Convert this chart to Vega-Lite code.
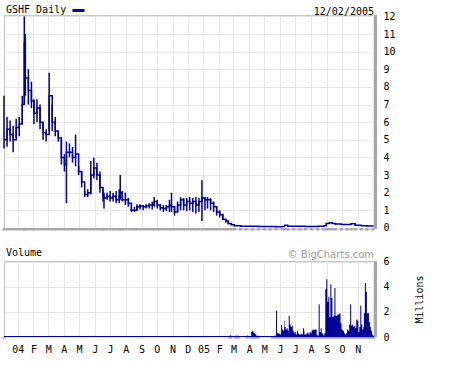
{
  "$schema": "https://vega.github.io/schema/vega-lite/v6.json",
  "padding": {"left": 0, "top": 2, "right": 0, "bottom": 0},
  "background": "white",
  "spacing": 14,
  "config": {
    "view": {"stroke": "#c4c4c4", "strokeWidth": 1},
    "axis": {"gridColor": "#e6e6e6", "gridWidth": 1, "labelFont": "DejaVu Sans Mono", "labelFontSize": 10, "labelColor": "#000000", "titleFont": "DejaVu Sans Mono", "titleFontSize": 10, "titleFontWeight": "normal", "titleColor": "#000000", "domain": false, "ticks": false},
    "legend": {"titleFont": "DejaVu Sans Mono", "titleFontSize": 10, "titleFontWeight": "normal", "titleColor": "#000000", "labelFontSize": 1, "padding": 0, "offset": 0},
    "title": {"font": "DejaVu Sans Mono", "fontSize": 10, "fontWeight": "normal", "color": "#000000", "frame": "group"}
  },
  "resolve": {"scale": {"color": "independent", "x": "independent", "y": "independent"}, "legend": {"color": "independent"}},
  "datasets": {
    "price": [
      {"date": "2003-12-05", "high": 7.5, "low": 4.5, "close": 5.0},
      {"date": "2003-12-11", "high": 6.3, "low": 4.6, "close": 5.6},
      {"date": "2003-12-17", "high": 6.1, "low": 4.9, "close": 5.3},
      {"date": "2003-12-23", "high": 5.8, "low": 4.3, "close": 5.0},
      {"date": "2003-12-29", "high": 6.2, "low": 5.1, "close": 5.7},
      {"date": "2004-01-04", "high": 6.3, "low": 5.2, "close": 5.9},
      {"date": "2004-01-10", "high": 7.5, "low": 5.9, "close": 7.0},
      {"date": "2004-01-14", "high": 12.0, "low": 7.0, "close": 10.5},
      {"date": "2004-01-16", "high": 11.0, "low": 7.5, "close": 8.5},
      {"date": "2004-01-22", "high": 9.0, "low": 7.0, "close": 7.8},
      {"date": "2004-01-28", "high": 8.3, "low": 6.8, "close": 7.2},
      {"date": "2004-02-02", "high": 7.3, "low": 5.9, "close": 6.5},
      {"date": "2004-02-08", "high": 7.3, "low": 6.0, "close": 6.8},
      {"date": "2004-02-14", "high": 7.0, "low": 5.6, "close": 6.0},
      {"date": "2004-02-20", "high": 6.0, "low": 5.0, "close": 5.4},
      {"date": "2004-02-26", "high": 5.6, "low": 4.9, "close": 5.3},
      {"date": "2004-03-03", "high": 8.8, "low": 5.5, "close": 7.5},
      {"date": "2004-03-09", "high": 7.0, "low": 5.5, "close": 6.0},
      {"date": "2004-03-15", "high": 6.3, "low": 5.2, "close": 5.5},
      {"date": "2004-03-21", "high": 5.5, "low": 4.9, "close": 5.1},
      {"date": "2004-03-27", "high": 5.0, "low": 3.6, "close": 4.0},
      {"date": "2004-04-02", "high": 4.2, "low": 3.2, "close": 3.6},
      {"date": "2004-04-06", "high": 4.9, "low": 1.4, "close": 4.3},
      {"date": "2004-04-12", "high": 4.8, "low": 4.0, "close": 4.3},
      {"date": "2004-04-18", "high": 4.6, "low": 3.7, "close": 4.0},
      {"date": "2004-04-24", "high": 5.3, "low": 3.5, "close": 4.2},
      {"date": "2004-04-30", "high": 3.5, "low": 3.0, "close": 3.2},
      {"date": "2004-05-06", "high": 3.2, "low": 2.3, "close": 2.6},
      {"date": "2004-05-12", "high": 2.1, "low": 1.75, "close": 1.9},
      {"date": "2004-05-18", "high": 2.2, "low": 1.75, "close": 2.0},
      {"date": "2004-05-24", "high": 3.8, "low": 1.9, "close": 3.0},
      {"date": "2004-05-30", "high": 4.0, "low": 2.8, "close": 3.4},
      {"date": "2004-06-05", "high": 3.7, "low": 2.7, "close": 3.0},
      {"date": "2004-06-11", "high": 3.2, "low": 2.0, "close": 2.3},
      {"date": "2004-06-17", "high": 2.2, "low": 1.5, "close": 1.8},
      {"date": "2004-06-19", "high": 2.0, "low": 1.1, "close": 1.7},
      {"date": "2004-06-25", "high": 2.0, "low": 1.6, "close": 1.8},
      {"date": "2004-07-01", "high": 2.1, "low": 1.5, "close": 1.7},
      {"date": "2004-07-07", "high": 2.0, "low": 1.5, "close": 1.8},
      {"date": "2004-07-13", "high": 2.1, "low": 1.4, "close": 1.6},
      {"date": "2004-07-19", "high": 2.2, "low": 1.4, "close": 1.8},
      {"date": "2004-07-21", "high": 3.0, "low": 1.6, "close": 2.0},
      {"date": "2004-07-25", "high": 2.1, "low": 1.5, "close": 1.6},
      {"date": "2004-07-31", "high": 2.0, "low": 1.3, "close": 1.6},
      {"date": "2004-08-06", "high": 1.7, "low": 1.2, "close": 1.4},
      {"date": "2004-08-12", "high": 1.2, "low": 0.9, "close": 1.0},
      {"date": "2004-08-18", "high": 1.2, "low": 0.9, "close": 1.0},
      {"date": "2004-08-23", "high": 1.35, "low": 1.0, "close": 1.2},
      {"date": "2004-08-29", "high": 1.35, "low": 1.05, "close": 1.25},
      {"date": "2004-09-04", "high": 1.3, "low": 1.0, "close": 1.2},
      {"date": "2004-09-10", "high": 1.35, "low": 1.1, "close": 1.25},
      {"date": "2004-09-16", "high": 1.4, "low": 1.1, "close": 1.3},
      {"date": "2004-09-22", "high": 1.5, "low": 1.05, "close": 1.3},
      {"date": "2004-09-26", "high": 1.75, "low": 1.2, "close": 1.5},
      {"date": "2004-10-02", "high": 1.6, "low": 1.1, "close": 1.3},
      {"date": "2004-10-08", "high": 1.35, "low": 1.0, "close": 1.15},
      {"date": "2004-10-14", "high": 1.3, "low": 0.9, "close": 1.1},
      {"date": "2004-10-20", "high": 1.3, "low": 0.95, "close": 1.2},
      {"date": "2004-10-26", "high": 1.6, "low": 0.9, "close": 1.3},
      {"date": "2004-10-30", "high": 2.0, "low": 0.9, "close": 1.2},
      {"date": "2004-11-05", "high": 1.2, "low": 0.7, "close": 0.9},
      {"date": "2004-11-11", "high": 1.5, "low": 0.9, "close": 1.3},
      {"date": "2004-11-17", "high": 1.75, "low": 1.0, "close": 1.6},
      {"date": "2004-11-23", "high": 1.7, "low": 1.0, "close": 1.3},
      {"date": "2004-11-29", "high": 1.7, "low": 0.95, "close": 1.5},
      {"date": "2004-12-05", "high": 1.75, "low": 1.0, "close": 1.4},
      {"date": "2004-12-11", "high": 1.7, "low": 0.9, "close": 1.5},
      {"date": "2004-12-17", "high": 1.75, "low": 0.8, "close": 1.3},
      {"date": "2004-12-23", "high": 1.7, "low": 0.9, "close": 1.5},
      {"date": "2004-12-29", "high": 2.7, "low": 0.4, "close": 1.7},
      {"date": "2005-01-04", "high": 1.75, "low": 1.0, "close": 1.6},
      {"date": "2005-01-09", "high": 1.75, "low": 1.1, "close": 1.6},
      {"date": "2005-01-15", "high": 1.7, "low": 1.0, "close": 1.4},
      {"date": "2005-01-21", "high": 1.5, "low": 0.9, "close": 1.2},
      {"date": "2005-01-27", "high": 1.2, "low": 0.7, "close": 0.9},
      {"date": "2005-02-02", "high": 1.0, "low": 0.6, "close": 0.75},
      {"date": "2005-02-08", "high": 0.8, "low": 0.45, "close": 0.5},
      {"date": "2005-02-14", "high": 0.5, "low": 0.3, "close": 0.4},
      {"date": "2005-02-19", "high": 0.4, "low": 0.2, "close": 0.25},
      {"date": "2005-02-25", "high": 0.25, "low": 0.15, "close": 0.18},
      {"date": "2005-03-03", "high": 0.18, "low": 0.1, "close": 0.12},
      {"date": "2005-03-15", "high": 0.12, "low": 0.09, "close": 0.1},
      {"date": "2005-03-26", "high": 0.11, "low": 0.08, "close": 0.1},
      {"date": "2005-04-07", "high": 0.1, "low": 0.08, "close": 0.09},
      {"date": "2005-04-19", "high": 0.09, "low": 0.07, "close": 0.08},
      {"date": "2005-05-01", "high": 0.09, "low": 0.07, "close": 0.08},
      {"date": "2005-05-12", "high": 0.09, "low": 0.06, "close": 0.08},
      {"date": "2005-05-24", "high": 0.08, "low": 0.06, "close": 0.07},
      {"date": "2005-06-05", "high": 0.09, "low": 0.07, "close": 0.08},
      {"date": "2005-06-10", "high": 0.16, "low": 0.1, "close": 0.15},
      {"date": "2005-06-16", "high": 0.12, "low": 0.09, "close": 0.1},
      {"date": "2005-06-28", "high": 0.11, "low": 0.09, "close": 0.1},
      {"date": "2005-07-10", "high": 0.1, "low": 0.08, "close": 0.09},
      {"date": "2005-07-21", "high": 0.09, "low": 0.07, "close": 0.08},
      {"date": "2005-08-02", "high": 0.09, "low": 0.07, "close": 0.08},
      {"date": "2005-08-14", "high": 0.11, "low": 0.08, "close": 0.1},
      {"date": "2005-08-26", "high": 0.14, "low": 0.1, "close": 0.12},
      {"date": "2005-08-31", "high": 0.27, "low": 0.15, "close": 0.25},
      {"date": "2005-09-06", "high": 0.32, "low": 0.25, "close": 0.3},
      {"date": "2005-09-12", "high": 0.28, "low": 0.22, "close": 0.25},
      {"date": "2005-09-18", "high": 0.25, "low": 0.19, "close": 0.22},
      {"date": "2005-09-30", "high": 0.22, "low": 0.18, "close": 0.2},
      {"date": "2005-10-11", "high": 0.22, "low": 0.18, "close": 0.2},
      {"date": "2005-10-19", "high": 0.26, "low": 0.2, "close": 0.24},
      {"date": "2005-10-27", "high": 0.18, "low": 0.13, "close": 0.15},
      {"date": "2005-11-08", "high": 0.14, "low": 0.11, "close": 0.12},
      {"date": "2005-11-19", "high": 0.12, "low": 0.1, "close": 0.11},
      {"date": "2005-12-01", "high": 0.11, "low": 0.09, "close": 0.1}
    ],
    "volume": [
      {"date": "2003-12-05", "volume": 0.08},
      {"date": "2005-02-22", "volume": 0.15},
      {"date": "2005-02-24", "volume": 0.08},
      {"date": "2005-03-05", "volume": 0.12},
      {"date": "2005-03-07", "volume": 0.08},
      {"date": "2005-03-09", "volume": 0.12},
      {"date": "2005-03-11", "volume": 0.08},
      {"date": "2005-03-28", "volume": 0.12},
      {"date": "2005-03-30", "volume": 0.08},
      {"date": "2005-04-05", "volume": 0.4},
      {"date": "2005-04-07", "volume": 0.5},
      {"date": "2005-04-09", "volume": 0.35},
      {"date": "2005-04-11", "volume": 0.3},
      {"date": "2005-04-13", "volume": 0.2},
      {"date": "2005-04-15", "volume": 0.08},
      {"date": "2005-04-17", "volume": 0.12},
      {"date": "2005-04-19", "volume": 0.08},
      {"date": "2005-05-16", "volume": 0.08},
      {"date": "2005-05-20", "volume": 0.1},
      {"date": "2005-05-22", "volume": 0.1},
      {"date": "2005-05-24", "volume": 2.1},
      {"date": "2005-05-26", "volume": 0.3},
      {"date": "2005-05-28", "volume": 0.3},
      {"date": "2005-05-30", "volume": 0.25},
      {"date": "2005-06-01", "volume": 0.2},
      {"date": "2005-06-03", "volume": 0.95},
      {"date": "2005-06-05", "volume": 0.6},
      {"date": "2005-06-07", "volume": 0.5},
      {"date": "2005-06-09", "volume": 1.3},
      {"date": "2005-06-10", "volume": 0.8},
      {"date": "2005-06-12", "volume": 0.6},
      {"date": "2005-06-14", "volume": 0.7},
      {"date": "2005-06-16", "volume": 0.5},
      {"date": "2005-06-18", "volume": 1.7},
      {"date": "2005-06-20", "volume": 1.0},
      {"date": "2005-06-22", "volume": 0.8},
      {"date": "2005-06-24", "volume": 0.9},
      {"date": "2005-06-26", "volume": 0.5},
      {"date": "2005-06-28", "volume": 0.3},
      {"date": "2005-06-30", "volume": 0.4},
      {"date": "2005-07-02", "volume": 0.2},
      {"date": "2005-07-04", "volume": 0.5},
      {"date": "2005-07-06", "volume": 0.3},
      {"date": "2005-07-08", "volume": 0.2},
      {"date": "2005-07-10", "volume": 0.2},
      {"date": "2005-07-12", "volume": 0.25},
      {"date": "2005-07-14", "volume": 0.2},
      {"date": "2005-07-16", "volume": 0.7},
      {"date": "2005-07-18", "volume": 0.5},
      {"date": "2005-07-19", "volume": 0.2},
      {"date": "2005-07-21", "volume": 0.2},
      {"date": "2005-07-23", "volume": 0.3},
      {"date": "2005-07-25", "volume": 0.35},
      {"date": "2005-07-27", "volume": 0.2},
      {"date": "2005-07-29", "volume": 0.4},
      {"date": "2005-07-31", "volume": 0.3},
      {"date": "2005-08-02", "volume": 0.5},
      {"date": "2005-08-04", "volume": 0.6},
      {"date": "2005-08-06", "volume": 0.55},
      {"date": "2005-08-08", "volume": 0.6},
      {"date": "2005-08-10", "volume": 0.6},
      {"date": "2005-08-12", "volume": 0.15},
      {"date": "2005-08-14", "volume": 0.1},
      {"date": "2005-08-16", "volume": 2.6},
      {"date": "2005-08-18", "volume": 0.4},
      {"date": "2005-08-20", "volume": 0.7},
      {"date": "2005-08-22", "volume": 0.3},
      {"date": "2005-08-24", "volume": 0.2},
      {"date": "2005-08-26", "volume": 0.1},
      {"date": "2005-08-27", "volume": 0.3},
      {"date": "2005-08-29", "volume": 3.8},
      {"date": "2005-08-31", "volume": 4.6},
      {"date": "2005-09-02", "volume": 2.8},
      {"date": "2005-09-04", "volume": 3.2},
      {"date": "2005-09-06", "volume": 1.6},
      {"date": "2005-09-08", "volume": 4.2},
      {"date": "2005-09-10", "volume": 3.1},
      {"date": "2005-09-12", "volume": 1.6},
      {"date": "2005-09-14", "volume": 1.7},
      {"date": "2005-09-16", "volume": 3.9},
      {"date": "2005-09-18", "volume": 1.7},
      {"date": "2005-09-20", "volume": 1.7},
      {"date": "2005-09-22", "volume": 1.8},
      {"date": "2005-09-24", "volume": 1.8},
      {"date": "2005-09-26", "volume": 1.9},
      {"date": "2005-09-28", "volume": 1.1},
      {"date": "2005-09-30", "volume": 0.6},
      {"date": "2005-10-02", "volume": 0.5},
      {"date": "2005-10-04", "volume": 0.5},
      {"date": "2005-10-05", "volume": 0.3},
      {"date": "2005-10-07", "volume": 0.2},
      {"date": "2005-10-09", "volume": 0.3},
      {"date": "2005-10-11", "volume": 0.6},
      {"date": "2005-10-13", "volume": 0.5},
      {"date": "2005-10-15", "volume": 1.0},
      {"date": "2005-10-17", "volume": 2.6},
      {"date": "2005-10-19", "volume": 0.9},
      {"date": "2005-10-21", "volume": 1.0},
      {"date": "2005-10-23", "volume": 0.8},
      {"date": "2005-10-25", "volume": 0.9},
      {"date": "2005-10-27", "volume": 0.7},
      {"date": "2005-10-29", "volume": 1.4},
      {"date": "2005-10-31", "volume": 1.3},
      {"date": "2005-11-02", "volume": 0.4},
      {"date": "2005-11-04", "volume": 0.8},
      {"date": "2005-11-06", "volume": 2.5},
      {"date": "2005-11-08", "volume": 1.0},
      {"date": "2005-11-10", "volume": 0.6},
      {"date": "2005-11-12", "volume": 0.8},
      {"date": "2005-11-13", "volume": 1.9},
      {"date": "2005-11-15", "volume": 4.3},
      {"date": "2005-11-17", "volume": 3.6},
      {"date": "2005-11-19", "volume": 1.9},
      {"date": "2005-11-21", "volume": 1.9},
      {"date": "2005-11-23", "volume": 1.2},
      {"date": "2005-11-25", "volume": 0.8},
      {"date": "2005-11-27", "volume": 0.5},
      {"date": "2005-11-29", "volume": 0.2},
      {"date": "2005-12-01", "volume": 0.1},
      {"date": "2005-12-03", "volume": 0.1}
    ]
  },
  "vconcat": [
    {
      "width": 370,
      "height": 214,
      "title": {"text": "12/02/2005", "anchor": "end", "offset": -14},
      "data": {"name": "price"},
      "encoding": {
        "x": {
          "field": "date", "type": "temporal",
          "scale": {"type": "utc", "domain": [{"year": 2003, "month": 12, "date": 5, "utc": true}, {"year": 2005, "month": 12, "date": 3, "utc": true}]},
          "axis": {"title": null, "labels": false, "grid": true, "tickCount": {"interval": "month", "step": 1}}
        }
      },
      "layer": [
        {
          "mark": {"type": "rule", "color": "#000099", "strokeWidth": 1.5},
          "encoding": {
            "y": {"field": "low", "type": "quantitative", "scale": {"domain": [-0.06, 12.08], "nice": false, "zero": false},
              "axis": {"orient": "right", "title": null, "values": [0,1,2,3,4,5,6,7,8,9,10,11,12], "labelOverlap": false, "labelPadding": 9, "grid": true}},
            "y2": {"field": "high"}
          }
        },
        {
          "mark": {"type": "line", "interpolate": "step-after", "strokeWidth": 1.5},
          "encoding": {
            "y": {"field": "close", "type": "quantitative",
              "axis": {"orient": "right", "title": null, "values": [0,1,2,3,4,5,6,7,8,9,10,11,12], "labelOverlap": false, "labelPadding": 9, "grid": true}},
            "color": {"datum": "GSHF Daily", "type": "nominal", "scale": {"range": ["#000099"]},
              "legend": {"orient": "none", "legendX": 2, "legendY": -12, "title": "GSHF Daily", "titleOrient": "left", "titlePadding": 4, "labelExpr": "''", "symbolType": "stroke", "symbolSize": 144, "symbolStrokeWidth": 3}}
          }
        },
        {
          "mark": {"type": "rule", "color": "#a6a6a6", "strokeWidth": 3, "xOffset": 1.5},
          "encoding": {"x": {"datum": {"year": 2005, "month": 12, "date": 3, "utc": true}, "type": "temporal"}}
        },
        {
          "mark": {"type": "rule", "color": "#a6a6a6", "strokeWidth": 3, "yOffset": 1.5},
          "encoding": {"y": {"datum": -0.06, "type": "quantitative",
            "axis": {"orient": "right", "title": null, "values": [0,1,2,3,4,5,6,7,8,9,10,11,12], "labelOverlap": false, "labelPadding": 9, "grid": true}}}
        }
      ]
    },
    {
      "width": 370,
      "height": 76,
      "title": {"text": "© BigCharts.com", "anchor": "end", "font": "DejaVu Sans", "fontSize": 10, "color": "#999999", "offset": -11},
      "data": {"name": "volume"},
      "encoding": {
        "x": {
          "field": "date", "type": "temporal",
          "scale": {"type": "utc", "domain": [{"year": 2003, "month": 12, "date": 5, "utc": true}, {"year": 2005, "month": 12, "date": 3, "utc": true}]},
          "axis": {"title": null, "grid": true, "tickCount": {"interval": "month", "step": 1}, "labelOverlap": false, "labelFlush": false, "labelPadding": 7,
            "labelExpr": "datum.value > utc(2005,10,20) ? '' : (utcmonth(datum.value) == 0 ? utcFormat(datum.value, '%y') : slice(utcFormat(datum.value, '%b'), 0, 1))"}
        }
      },
      "layer": [
        {
          "mark": {"type": "area", "interpolate": "step-after"},
          "encoding": {
            "y": {"field": "volume", "type": "quantitative", "scale": {"domain": [0, 6.05], "nice": false},
              "axis": {"orient": "right", "title": "Millions", "titleAngle": -90, "titlePadding": 35, "values": [0, 2, 4, 6], "labelOverlap": false, "labelPadding": 9, "grid": true}},
            "color": {"datum": "Volume", "type": "nominal", "scale": {"range": ["#000099"]},
              "legend": {"orient": "none", "legendX": 2, "legendY": -12, "title": "Volume", "titleOrient": "left", "titlePadding": 4, "labelExpr": "''", "symbolType": "stroke", "symbolSize": 144, "symbolStrokeWidth": 3}}
          }
        },
        {
          "mark": {"type": "rule", "color": "#a6a6a6", "strokeWidth": 3, "xOffset": 1.5},
          "encoding": {"x": {"datum": {"year": 2005, "month": 12, "date": 3, "utc": true}, "type": "temporal"}}
        },
        {
          "mark": {"type": "rule", "color": "#a6a6a6", "strokeWidth": 3, "yOffset": 1.5},
          "encoding": {"y": {"datum": 0, "type": "quantitative",
            "axis": {"orient": "right", "title": "Millions", "titleAngle": -90, "titlePadding": 35, "values": [0, 2, 4, 6], "labelOverlap": false, "labelPadding": 9, "grid": true}}}
        }
      ]
    }
  ]
}
